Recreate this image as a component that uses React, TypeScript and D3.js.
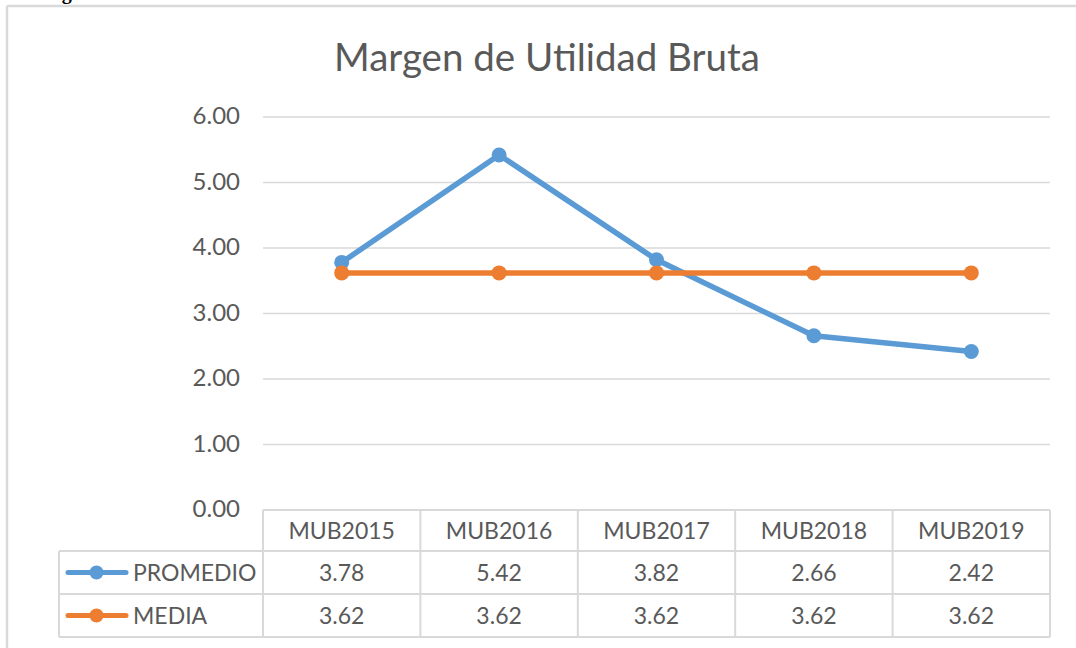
import React from "react";
import * as d3 from "d3";

const categories = ["MUB2015", "MUB2016", "MUB2017", "MUB2018", "MUB2019"];
const promedio = [3.78, 5.42, 3.82, 2.66, 2.42];
const media = [3.62, 3.62, 3.62, 3.62, 3.62];
const yTicks = [0, 1, 2, 3, 4, 5, 6];
const seriesNames = ["PROMEDIO", "MEDIA"];
const seriesColors = ["#5B9BD5", "#ED7D31"];
const title = "Margen de Utilidad Bruta";

const W = 1076;
const H = 648;
const FONT = "Lato, 'Open Sans', sans-serif";
const TEXT = "#595959";
const GRID = "#d9d9d9";

export default function App() {
  const left = 263;
  const right = 1050;
  const x = d3.scaleBand<string>().domain(categories).range([left, right]);
  const y = d3.scaleLinear().domain([0, 6]).range([510, 117]);
  const cx = (c: string) => (x(c) as number) + x.bandwidth() / 2;
  const rowTops = [510, 551, 594, 637];
  const legendLeft = 59;
  const series = [promedio, media];
  const line = d3
    .line<number>()
    .x((_, i) => cx(categories[i]))
    .y((d) => y(d));

  return (
    <svg
      width={W}
      height={H}
      style={{ position: "absolute", left: 0, top: 0, display: "block", background: "#fff" }}
    >
      <text x={44} y={-1.5} fontFamily="'Liberation Serif', serif" fontWeight="bold" fontSize={20} fill="#000">
        Figura
      </text>
      {/* frame */}
      <line x1={7} y1={6} x2={W} y2={6} stroke={GRID} strokeWidth={2.5} />
      <line x1={7} y1={6} x2={7} y2={H} stroke={GRID} strokeWidth={2.5} />

      <text x={547} y={71} textAnchor="middle" fontFamily={FONT} fontSize={38.5} fill={TEXT}>
        {title}
      </text>

      {/* grid */}
      {yTicks.map((t) => (
        <g key={t}>
          {t > 0 && (
            <line x1={left} x2={right} y1={y(t)} y2={y(t)} stroke={GRID} strokeWidth={1.5} />
          )}
          <text
            x={240}
            y={y(t) + 1}
            textAnchor="end"
            dominantBaseline="middle"
            fontFamily={FONT}
            fontSize={24}
            fill={TEXT}
          >
            {t.toFixed(2)}
          </text>
        </g>
      ))}

      {/* table lines */}
      <line x1={left} x2={right} y1={rowTops[0]} y2={rowTops[0]} stroke={GRID} strokeWidth={2} />
      {rowTops.slice(1).map((ry) => (
        <line key={ry} x1={legendLeft} x2={right} y1={ry} y2={ry} stroke={GRID} strokeWidth={2} />
      ))}
      <line x1={legendLeft} x2={legendLeft} y1={rowTops[1]} y2={rowTops[3]} stroke={GRID} strokeWidth={2} />
      {categories.map((c) => (
        <line key={c} x1={x(c) as number} x2={x(c) as number} y1={rowTops[0]} y2={rowTops[3]} stroke={GRID} strokeWidth={2} />
      ))}
      <line x1={right} x2={right} y1={rowTops[0]} y2={rowTops[3]} stroke={GRID} strokeWidth={2} />

      {/* header */}
      {categories.map((c) => (
        <text
          key={c}
          x={cx(c)}
          y={(rowTops[0] + rowTops[1]) / 2 + 3}
          textAnchor="middle"
          dominantBaseline="middle"
          fontFamily={FONT}
          fontSize={23}
          fill={TEXT}
        >
          {c}
        </text>
      ))}

      {/* rows */}
      {series.map((vals, si) => {
        const cy = (rowTops[si + 1] + rowTops[si + 2]) / 2;
        return (
          <g key={si}>
            <line x1={68} x2={126} y1={cy} y2={cy} stroke={seriesColors[si]} strokeWidth={5} strokeLinecap="round" />
            <circle cx={96.5} cy={cy} r={7} fill={seriesColors[si]} />
            <text x={133} y={cy + 2.5} dominantBaseline="middle" fontFamily={FONT} fontSize={23} fill={TEXT}>
              {seriesNames[si]}
            </text>
            {vals.map((v, i) => (
              <text
                key={i}
                x={cx(categories[i])}
                y={cy + 2.5}
                textAnchor="middle"
                dominantBaseline="middle"
                fontFamily={FONT}
                fontSize={23}
                fill={TEXT}
              >
                {v.toFixed(2)}
              </text>
            ))}
          </g>
        );
      })}

      {/* series lines */}
      {series.map((vals, si) => (
        <g key={si}>
          <path d={line(vals) || ""} fill="none" stroke={seriesColors[si]} strokeWidth={5.5} strokeLinejoin="round" strokeLinecap="round" />
          {vals.map((v, i) => (
            <circle key={i} cx={cx(categories[i])} cy={y(v)} r={7.5} fill={seriesColors[si]} />
          ))}
        </g>
      ))}
    </svg>
  );
}
